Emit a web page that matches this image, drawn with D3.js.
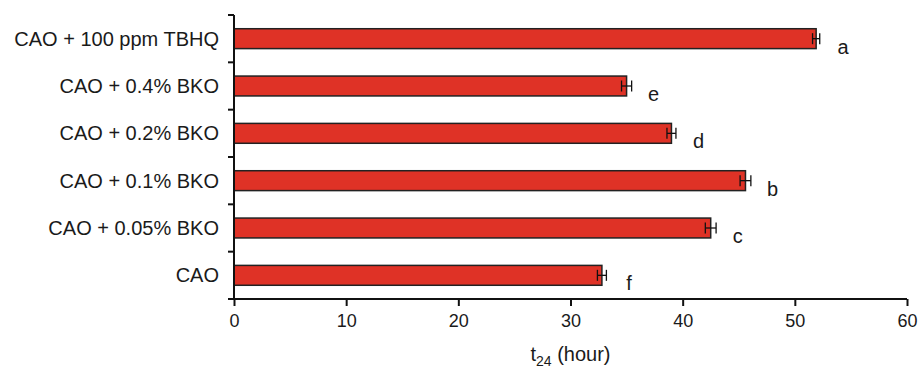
<!DOCTYPE html>
<html>
<head>
<meta charset="utf-8">
<script src="https://cdn.jsdelivr.net/npm/d3@7"></script>
<style>
  body { margin: 0; background: #fff; }
  text { font-family: "Liberation Sans", Arial, sans-serif; fill: #1a1a1a; }
</style>
</head>
<body>
<svg width="919" height="369"></svg>
<script>
var categories = ["CAO + 100 ppm TBHQ", "CAO + 0.4% BKO", "CAO + 0.2% BKO", "CAO + 0.1% BKO", "CAO + 0.05% BKO", "CAO"];
var values = [51.9, 35.0, 39.0, 45.6, 42.5, 32.8];
var errors = [0.32, 0.45, 0.4, 0.48, 0.48, 0.4];
var letters = ["a", "e", "d", "b", "c", "f"];
var xTicks = [0, 10, 20, 30, 40, 50, 60];

var svg = d3.select("svg");
var margin = {left: 234, right: 12, top: 15, bottom: 70};
var width = +svg.attr("width");
var height = +svg.attr("height");

var x = d3.scaleLinear()
    .domain([0, 60])
    .range([margin.left, width - margin.right]);
var y = d3.scaleBand()
    .domain(categories)
    .range([margin.top, height - margin.bottom])
    .paddingInner(0.58)
    .paddingOuter(0.29);

var g = svg.append("g");

// bars
g.selectAll("rect.bar")
    .data(values)
    .enter().append("rect")
      .attr("class", "bar")
      .attr("x", x(0))
      .attr("y", function(d, i) { return y(categories[i]); })
      .attr("width", function(d) { return x(d) - x(0); })
      .attr("height", y.bandwidth())
      .style("fill", "#df3226")
      .style("stroke", "#222")
      .style("stroke-width", 1.5);

// error bars
var capH = 5.5;
var err = g.selectAll("g.err")
    .data(values)
    .enter().append("g")
      .attr("class", "err")
      .style("stroke", "#111")
      .style("stroke-width", 1.3);
err.append("line")
    .attr("x1", function(d, i) { return x(d - errors[i]); })
    .attr("x2", function(d, i) { return x(d + errors[i]); })
    .attr("y1", function(d, i) { return y(categories[i]) + y.bandwidth() / 2; })
    .attr("y2", function(d, i) { return y(categories[i]) + y.bandwidth() / 2; });
[-1, 1].forEach(function(s) {
  err.append("line")
      .attr("x1", function(d, i) { return x(d + s * errors[i]); })
      .attr("x2", function(d, i) { return x(d + s * errors[i]); })
      .attr("y1", function(d, i) { return y(categories[i]) + y.bandwidth() / 2 - capH; })
      .attr("y2", function(d, i) { return y(categories[i]) + y.bandwidth() / 2 + capH; });
});

// significance letters
g.selectAll("text.letter")
    .data(letters)
    .enter().append("text")
      .attr("class", "letter")
      .attr("x", function(d, i) { return x(values[i]) + 27; })
      .attr("y", function(d, i) { return y(categories[i]) + y.bandwidth() / 2 + 8; })
      .attr("dy", "0.35em")
      .attr("text-anchor", "middle")
      .style("font-size", "20px")
      .text(function(d) { return d; });

// y axis (ticks between bands)
var yAxisG = svg.append("g");
yAxisG.append("line")
    .attr("x1", x(0)).attr("x2", x(0))
    .attr("y1", margin.top).attr("y2", height - margin.bottom)
    .style("stroke", "#111").style("stroke-width", 2);
var bounds = categories.map(function(c) { return y(c) - y.step() * y.paddingInner() / 2; });
bounds.push(height - margin.bottom);
yAxisG.selectAll("line.tick")
    .data(bounds)
    .enter().append("line")
      .attr("class", "tick")
      .attr("x1", x(0) - 6).attr("x2", x(0))
      .attr("y1", function(d) { return d; })
      .attr("y2", function(d) { return d; })
      .style("stroke", "#111").style("stroke-width", 2);
yAxisG.selectAll("text")
    .data(categories)
    .enter().append("text")
      .attr("x", x(0) - 15)
      .attr("y", function(d) { return y(d) + y.bandwidth() / 2; })
      .attr("dy", "0.35em")
      .attr("text-anchor", "end")
      .style("font-size", "20px")
      .text(function(d) { return d; });

// x axis
var xAxis = d3.axisBottom(x).tickValues(xTicks).tickSize(7).tickPadding(8);
var xAxisG = svg.append("g")
    .attr("transform", "translate(0," + (height - margin.bottom) + ")")
    .call(xAxis);
xAxisG.select(".domain").style("stroke", "#111").style("stroke-width", 2)
    .attr("d", "M" + x(0) + ",0H" + x(60));
xAxisG.selectAll(".tick line").style("stroke", "#111").style("stroke-width", 2);
xAxisG.selectAll(".tick text")
    .style("font-size", "18px")
    .style("font-family", "'Liberation Sans', Arial, sans-serif")
    .style("fill", "#1a1a1a");

// axis title
var title = svg.append("text")
    .attr("x", (x(0) + x(60)) / 2)
    .attr("y", height - 8)
    .attr("text-anchor", "middle")
    .style("font-size", "20px");
title.append("tspan").text("t");
title.append("tspan").attr("dy", 5).style("font-size", "14px").text("24");
title.append("tspan").attr("dy", -5).text(" (hour)");
</script>
</body>
</html>
